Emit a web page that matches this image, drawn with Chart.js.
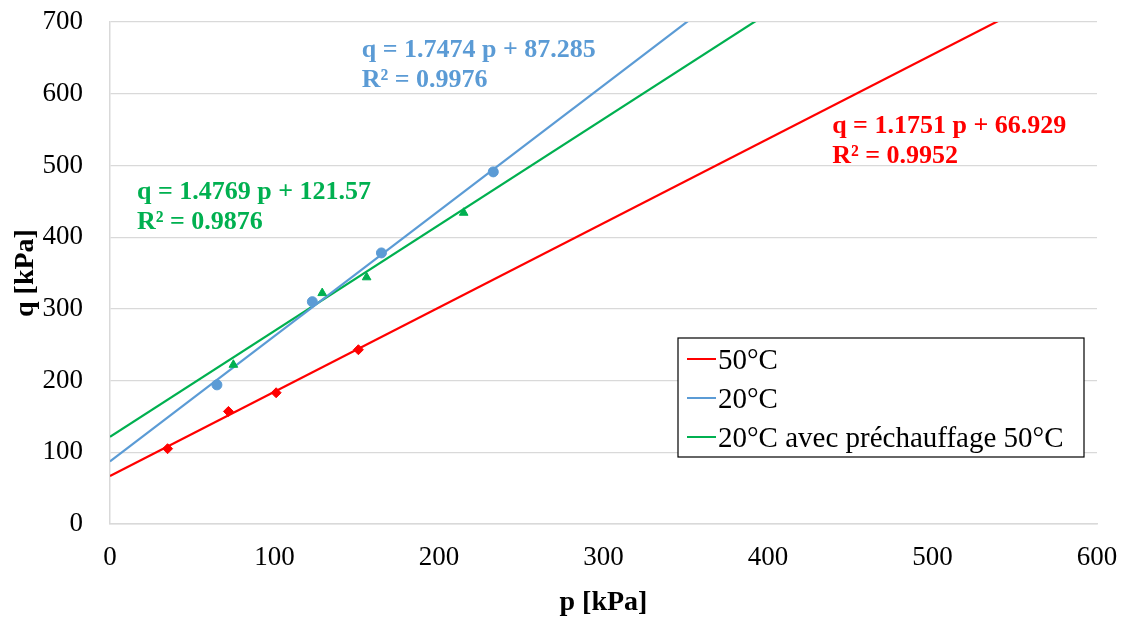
<!DOCTYPE html>
<html>
<head>
<meta charset="utf-8">
<script src="https://cdn.jsdelivr.net/npm/chart.js@4"></script>
<style>
  html, body { margin: 0; padding: 0; background: #fff; }
  #wrap { width: 1124px; height: 620px; }
</style>
</head>
<body>
<div id="wrap"><canvas id="myChart" width="1124" height="620"></canvas></div>
<script>
// measured points (p, q in kPa)
const p50 = [35, 72, 101, 151];
const q50 = [105, 157, 183, 243];
const p20 = [65, 123, 165, 233];
const q20 = [194, 310, 378, 491];
const p20pre = [75, 129, 156, 215];
const q20pre = [222, 322, 344, 434];

const seriesNames = ['50°C', '20°C', '20°C avec préchauffage 50°C'];
const seriesColors = ['#FF0000', '#5B9BD5', '#00B050'];
const markerStyles = ['rectRot', 'circle', 'triangle'];

// trendline coefficients as shown in the chart
const slopes = [1.1751, 1.7474, 1.4769];
const intercepts = [66.929, 87.285, 121.57];
const r2 = [0.9952, 0.9976, 0.9876];

const xTicks = [0, 100, 200, 300, 400, 500, 600];
const yTicks = [0, 100, 200, 300, 400, 500, 600, 700];

const serif = "'Liberation Serif', 'Times New Roman', serif";

function pts(xs, ys) {
    return xs.map((x, i) => ({ x: x, y: ys[i] }));
}

const measured = [pts(p50, q50), pts(p20, q20), pts(p20pre, q20pre)];

let datasets = [];
// trendlines first (drawn under markers)
for (let i = 0; i < 3; i++) {
    const x0 = xTicks[0], x1 = xTicks[xTicks.length - 1];
    datasets.push({
        label: seriesNames[i],
        type: 'line',
        data: [{ x: x0, y: slopes[i] * x0 + intercepts[i] }, { x: x1, y: slopes[i] * x1 + intercepts[i] }],
        borderColor: seriesColors[i],
        borderWidth: 2.2,
        pointRadius: 0,
        fill: false,
        order: 2
    });
}
for (let i = 0; i < 3; i++) {
    datasets.push({
        label: seriesNames[i] + ' pts',
        type: 'scatter',
        data: measured[i],
        backgroundColor: seriesColors[i],
        borderColor: seriesColors[i],
        pointStyle: markerStyles[i],
        pointRadius: 5,
        order: 1
    });
}

// equation labels, placed in data coords
const eqPlaces = [
    { x: 439, y: 554 },
    { x: 153, y: 660 },
    { x: 16.4, y: 463 }
];

const extras = {
    id: 'extras',
    afterDatasetsDraw(chart) {
        const ctx = chart.ctx;
        const xs = chart.scales.x, ys = chart.scales.y;
        ctx.save();
        ctx.font = 'bold 26px ' + serif;
        ctx.textBaseline = 'middle';
        ctx.textAlign = 'left';
        for (let i = 0; i < 3; i++) {
            const px = xs.getPixelForValue(eqPlaces[i].x);
            const py = ys.getPixelForValue(eqPlaces[i].y);
            ctx.fillStyle = seriesColors[i];
            ctx.fillText('q = ' + slopes[i] + ' p + ' + intercepts[i], px, py);
            ctx.fillText('R² = ' + r2[i], px, py + 30);
        }
        // legend box
        const bx = 678, by = 338, bw = 406, bh = 119;
        ctx.fillStyle = '#fff';
        ctx.fillRect(bx, by, bw, bh);
        ctx.strokeStyle = '#000';
        ctx.lineWidth = 1.2;
        ctx.strokeRect(bx, by, bw, bh);
        ctx.font = '29px ' + serif;
        for (let i = 0; i < 3; i++) {
            const ry = by + 21 + i * 39;
            ctx.strokeStyle = seriesColors[i];
            ctx.lineWidth = 2;
            ctx.beginPath();
            ctx.moveTo(bx + 9, ry);
            ctx.lineTo(bx + 38, ry);
            ctx.stroke();
            ctx.fillStyle = '#000';
            ctx.fillText(chart.data.datasets[i].label, bx + 40, ry + 2);
        }
        ctx.restore();
    }
};

let myChart = document.getElementById('myChart').getContext('2d');
let mainChart = new Chart(myChart, {
    type: 'scatter',
    data: { datasets: datasets },
    options: {
        responsive: false,
        animation: false,
        layout: { padding: { left: 0, top: 22, right: 27, bottom: 0 } },
        plugins: { legend: { display: false }, tooltip: { enabled: false } },
        scales: {
            x: {
                type: 'linear',
                min: 0, max: 600,
                afterBuildTicks: s => { s.ticks = xTicks.map(v => ({ value: v })); },
                afterFit: s => { s.height = 96; s.paddingLeft = 0; s.paddingRight = 0; },
                grid: { display: false, drawTicks: false },
                border: { display: true, color: '#d9d9d9', width: 1.5 },
                ticks: { color: '#000', padding: 18, font: { family: serif, size: 27 } },
                title: { display: true, text: 'p [kPa]', color: '#000', padding: { top: 0, bottom: 0 },
                         font: { family: serif, size: 28, weight: 'bold' } }
            },
            y: {
                type: 'linear',
                min: 0, max: 700,
                afterBuildTicks: s => { s.ticks = yTicks.map(v => ({ value: v })); },
                afterFit: s => { s.width = 110; s.paddingTop = 0; s.paddingBottom = 0; },
                grid: { color: '#d9d9d9', lineWidth: 1.2, drawTicks: false },
                border: { display: true, color: '#d9d9d9', width: 1.5 },
                ticks: { color: '#000', padding: 27, font: { family: serif, size: 27 } },
                title: { display: true, text: 'q [kPa]', color: '#000', padding: { top: 9, bottom: 0 },
                         font: { family: serif, size: 28, weight: 'bold' } }
            }
        }
    },
    plugins: [extras]
});
</script>
</body>
</html>
